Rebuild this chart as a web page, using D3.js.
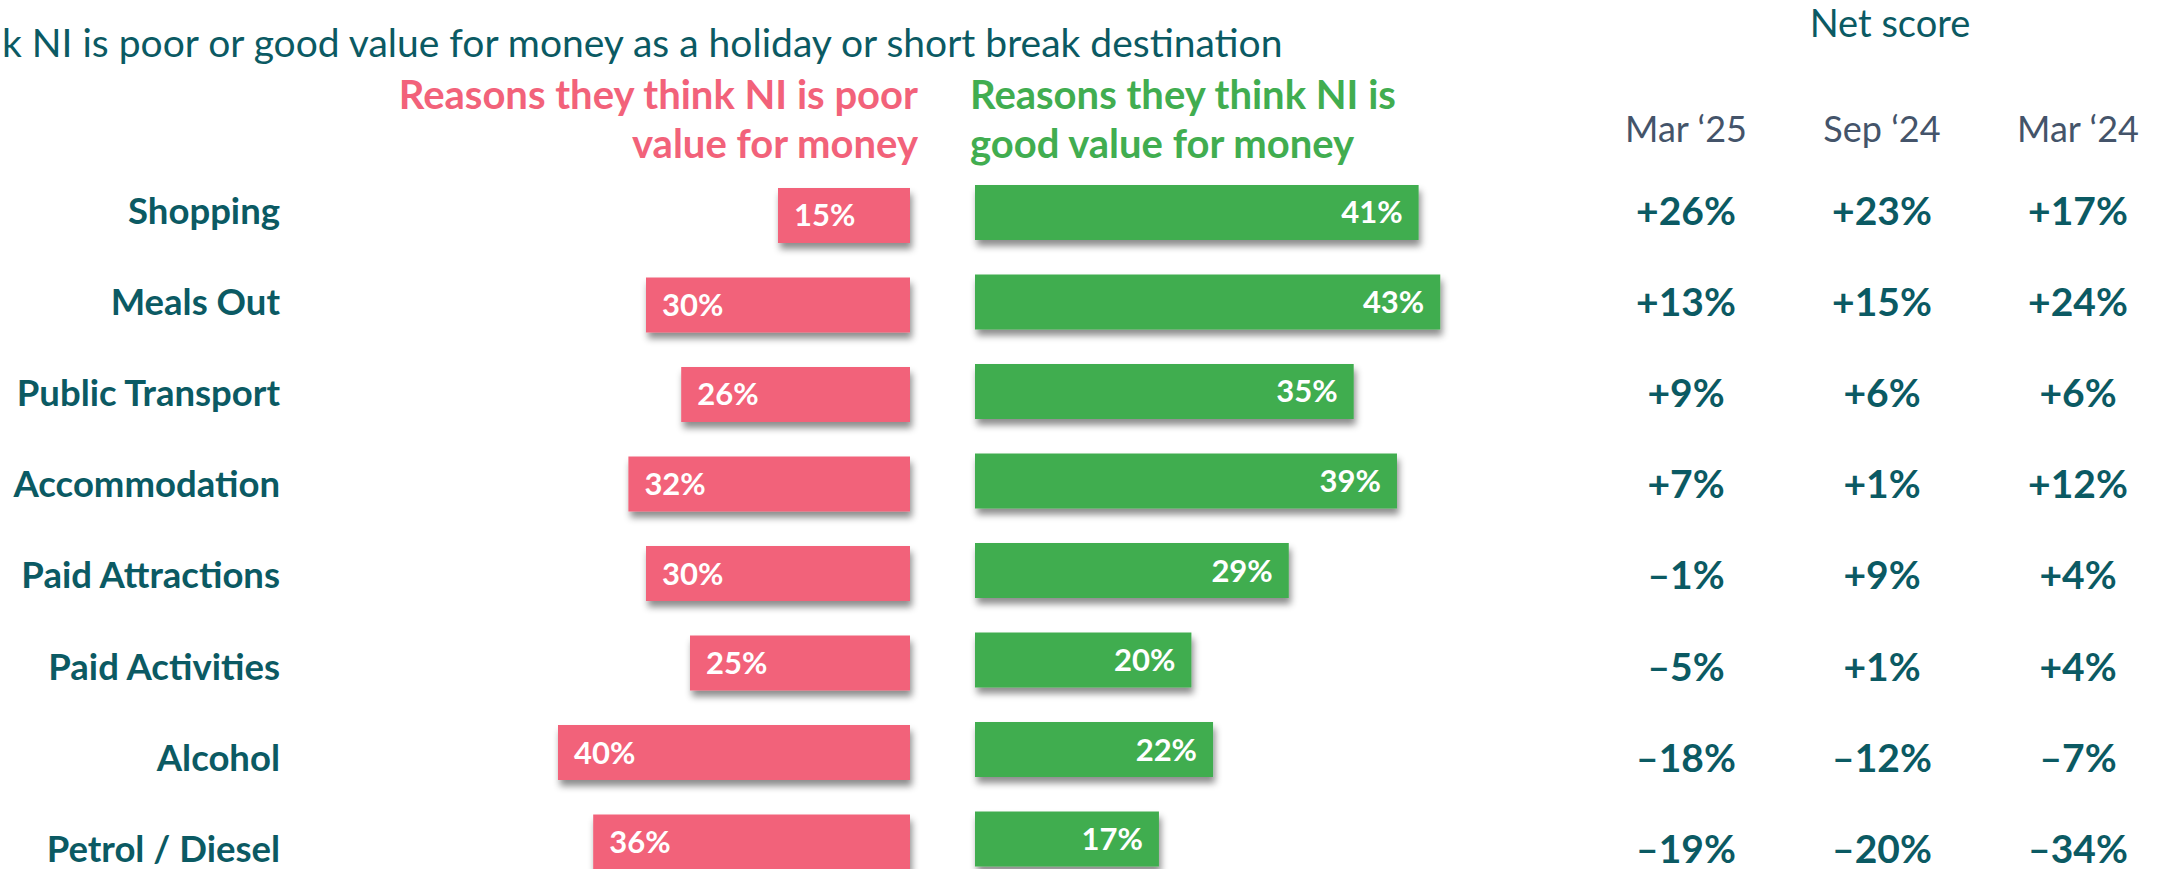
<!DOCTYPE html>
<html>
<head>
<meta charset="utf-8">
<script src="https://cdn.jsdelivr.net/npm/d3@7"></script>
<style>
  html, body { margin: 0; padding: 0; background: #fff; overflow: hidden; }
  text { font-family: Lato, "Open Sans", sans-serif; }
</style>
</head>
<body>
<div id="chart"></div>
<script>
const categories = ['Shopping', 'Meals Out', 'Public Transport', 'Accommodation',
  'Paid Attractions', 'Paid Activities', 'Alcohol', 'Petrol / Diesel'];
const poorValues = [15, 30, 26, 32, 30, 25, 40, 36];
const goodValues = [41, 43, 35, 39, 29, 20, 22, 17];
const periods = ['Mar \u201825', 'Sep \u201824', 'Mar \u201824'];
const netMar25 = [26, 13, 9, 7, -1, -5, -18, -19];
const netSep24 = [23, 15, 6, 1, 9, 1, -12, -20];
const netMar24 = [17, 24, 6, 12, 4, 4, -7, -34];

const TEAL = '#0b5a63';
const PINK = '#f2627a';
const GREEN = '#41ad50';
const GREY = '#44546a';

class DivergingTable {
  svg;
  width;
  height;

  constructor(target, width, height) {
    this.width = width;
    this.height = height;
    this.svg = d3.select(target)
      .append('svg')
      .attr('width', width)
      .attr('height', height);

    const shadow = this.svg.append('defs')
      .append('filter')
        .attr('id', 'shadow')
        .attr('x', '-10%').attr('y', '-20%')
        .attr('width', '120%').attr('height', '160%');
    shadow.append('feDropShadow')
      .attr('dx', 2).attr('dy', 6)
      .attr('stdDeviation', 3.5)
      .attr('flood-color', '#000')
      .attr('flood-opacity', 0.45);

    // bar rows and text rows have slightly different pitch in the original
    this.y = d3.scaleBand().domain(categories).range([188, 869.5])
      .paddingInner(0.3855).paddingOuter(0);
    this.row = d3.scalePoint().domain(categories).range([211.5, 850]);

    this.xPoor = d3.scaleLinear().domain([0, 100]).range([910, 30]);
    this.xGood = d3.scaleLinear().domain([0, 100]).range([975, 2057]);
    this.xNet = d3.scalePoint().domain(periods).range([1686, 2078]);
  }

  drawHeadings() {
    this.svg.append('text')
      .attr('x', 2).attr('y', 57)
      .attr('fill', TEAL)
      .style('font-size', '39px')
      .text('k NI is poor or good value for money as a holiday or short break destination');

    const poorHead = this.svg.append('text')
      .attr('text-anchor', 'end')
      .attr('fill', PINK)
      .style('font-size', '40px').style('font-weight', 700);
    poorHead.append('tspan').attr('x', 918).attr('y', 109).text('Reasons they think NI is poor');
    poorHead.append('tspan').attr('x', 918).attr('y', 158).text('value for money');

    const goodHead = this.svg.append('text')
      .attr('fill', GREEN)
      .style('font-size', '40px').style('font-weight', 700);
    goodHead.append('tspan').attr('x', 970).attr('y', 109).text('Reasons they think NI is');
    goodHead.append('tspan').attr('x', 970).attr('y', 158).text('good value for money');

    this.svg.append('text')
      .attr('x', 1890).attr('y', 37)
      .attr('text-anchor', 'middle')
      .attr('fill', TEAL)
      .style('font-size', '38px')
      .text('Net score');

    this.svg.append('g')
      .selectAll('text')
      .data(periods)
      .join('text')
        .attr('x', d => this.xNet(d))
        .attr('y', 142)
        .attr('text-anchor', 'middle')
        .attr('fill', GREY)
        .style('font-size', '36px')
        .text(d => d);
  }

  drawBars() {
    const rows = categories.map((c, i) => ({ c, poor: poorValues[i], good: goodValues[i] }));

    this.svg.append('g')
      .selectAll('text')
      .data(categories)
      .join('text')
        .attr('x', 280)
        .attr('y', d => this.row(d) + 12)
        .attr('text-anchor', 'end')
        .attr('fill', TEAL)
        .style('font-size', '36.5px').style('font-weight', 700)
        .text(d => d);

    const poor = this.svg.append('g').attr('class', 'poor');
    poor.selectAll('rect')
      .data(rows)
      .join('rect')
        .attr('x', d => this.xPoor(d.poor))
        .attr('y', d => this.y(d.c))
        .attr('width', d => this.xPoor(0) - this.xPoor(d.poor))
        .attr('height', this.y.bandwidth())
        .attr('fill', PINK)
        .attr('filter', 'url(#shadow)');
    poor.selectAll('text')
      .data(rows)
      .join('text')
        .attr('x', d => this.xPoor(d.poor) + 16)
        .attr('y', d => this.y(d.c) + this.y.bandwidth() / 2 + 11)
        .attr('fill', '#fff')
        .style('font-size', '31px').style('font-weight', 700)
        .text(d => `${d.poor}%`);

    const good = this.svg.append('g').attr('class', 'good')
      .attr('transform', 'translate(0,-3)');
    good.selectAll('rect')
      .data(rows)
      .join('rect')
        .attr('x', this.xGood(0))
        .attr('y', d => this.y(d.c))
        .attr('width', d => this.xGood(d.good) - this.xGood(0))
        .attr('height', this.y.bandwidth())
        .attr('fill', GREEN)
        .attr('filter', 'url(#shadow)');
    good.selectAll('text')
      .data(rows)
      .join('text')
        .attr('x', d => this.xGood(d.good) - 16)
        .attr('y', d => this.y(d.c) + this.y.bandwidth() / 2 + 11)
        .attr('text-anchor', 'end')
        .attr('fill', '#fff')
        .style('font-size', '31px').style('font-weight', 700)
        .text(d => `${d.good}%`);
  }

  drawNet() {
    const fmt = v => (v > 0 ? '+' : v < 0 ? '\u2013' : '') + Math.abs(v) + '%';
    [netMar25, netSep24, netMar24].forEach((vals, k) => {
      this.svg.append('g')
        .selectAll('text')
        .data(vals)
        .join('text')
          .attr('x', this.xNet(periods[k]))
          .attr('y', (d, i) => this.row(categories[i]) + 13)
          .attr('text-anchor', 'middle')
          .attr('fill', TEAL)
          .style('font-size', '39px').style('font-weight', 700)
          .text(fmt);
    });
  }
}

const chart = new DivergingTable('#chart', 2162, 869);
chart.drawHeadings();
chart.drawBars();
chart.drawNet();
</script>
</body>
</html>
